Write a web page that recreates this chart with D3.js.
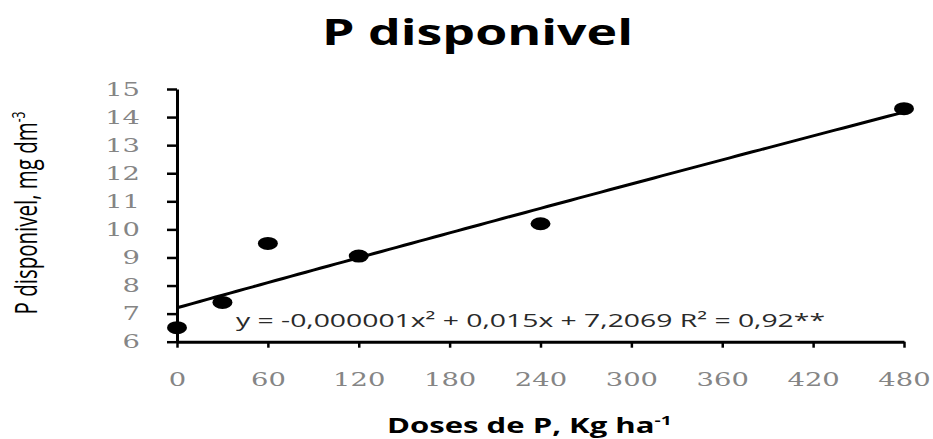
<!DOCTYPE html>
<html>
<head>
<meta charset="utf-8">
<script src="https://cdn.jsdelivr.net/npm/d3@7"></script>
<style>
  html, body { margin: 0; padding: 0; background: #fff; }
  svg { display: block; }
</style>
</head>
<body>
<svg id="chart" width="933" height="439"></svg>
<script>
// ---- data ----
const doses = [0, 30, 60, 120, 240, 480];
const pValues = [6.5, 7.4, 9.5, 9.05, 10.2, 14.3];
const xTicks = [0, 60, 120, 180, 240, 300, 360, 420, 480];
const yTicks = [6, 7, 8, 9, 10, 11, 12, 13, 14, 15];
const trendCoef = [-0.000001, 0.015, 7.2069]; // a x^2 + b x + c
const titleText = "P disponivel";
const xTitleText = "Doses de P, Kg ha";
const xTitleSup = "-1";
const yTitleText = "P disponivel, mg dm";
const yTitleSup = "-3";
const equationText = "y = -0,000001x\u00B2 + 0,015x + 7,2069 R\u00B2 = 0,92**";

// ---- layout ----
const SX = 1.48; // horizontal stretch of the original picture
const svg = d3.select("#chart");
const x = d3.scaleLinear().domain([0, 480]).range([177, 904]);
const y = d3.scaleLinear().domain([6, 15]).range([341.7, 89]);

// title
svg.append("text")
  .attr("x", 322).attr("y", 45)
  .attr("font-family", "'Open Sans', sans-serif")
  .attr("font-weight", 700)
  .attr("font-size", 35)
  .attr("textLength", 311)
  .attr("lengthAdjust", "spacingAndGlyphs")
  .attr("fill", "#000")
  .text(titleText);

// y axis
const yAxis = svg.append("g")
  .attr("transform", `translate(${x(0)},0)`)
  .call(d3.axisLeft(y).tickValues(yTicks).tickSize(10).tickSizeOuter(0).tickFormat(d3.format("d")));
yAxis.select(".domain").attr("stroke", "#000").attr("stroke-width", 3);
yAxis.selectAll(".tick line").attr("stroke", "#000").attr("stroke-width", 2.5);
yAxis.selectAll(".tick text")
  .attr("x", -37 / SX)
  .attr("dy", "0.34em")
  .attr("transform", `scale(${SX},1)`)
  .attr("font-family", "'DejaVu Serif', serif")
  .attr("font-size", 18.5)
  .attr("fill", "#858585");

// x axis
const xAxis = svg.append("g")
  .attr("transform", `translate(0,${y(6)})`)
  .call(d3.axisBottom(x).tickValues(xTicks).tickSize(6).tickSizeOuter(0).tickFormat(d3.format("d")));
xAxis.select(".domain").attr("stroke", "#000").attr("stroke-width", 3);
xAxis.selectAll(".tick line").attr("stroke", "#000").attr("stroke-width", 2.5);
xAxis.selectAll(".tick text")
  .attr("y", 44.3)
  .attr("dy", 0)
  .attr("transform", `scale(${SX},1)`)
  .attr("font-family", "'DejaVu Serif', serif")
  .attr("font-size", 18.5)
  .attr("fill", "#858585");

// trend line
const trend = v => trendCoef[0] * v * v + trendCoef[1] * v + trendCoef[2];
const samples = x.ticks(96);
svg.append("path")
  .datum(samples)
  .attr("fill", "none")
  .attr("stroke", "#000")
  .attr("stroke-width", 3)
  .attr("d", d3.line().x(d => x(d)).y(d => y(trend(d))));

// points
svg.append("g").selectAll("ellipse")
  .data(doses.map((d, i) => [d, pValues[i]]))
  .join("ellipse")
  .attr("cx", d => x(d[0]))
  .attr("cy", d => y(d[1]))
  .attr("rx", 10)
  .attr("ry", 6.5)
  .attr("fill", "#000");

// equation
svg.append("text")
  .attr("x", 236).attr("y", 327)
  .attr("font-family", "'Open Sans', sans-serif")
  .attr("font-size", 19)
  .attr("textLength", 589)
  .attr("lengthAdjust", "spacingAndGlyphs")
  .attr("fill", "#2a2a2a")
  .text(equationText);

// x title
const xt = svg.append("text")
  .attr("transform", `translate(387,433) scale(${SX},1)`)
  .attr("font-family", "'Open Sans', sans-serif")
  .attr("font-weight", 700)
  .attr("font-size", 21)
  .attr("fill", "#000");
xt.append("tspan").text(xTitleText);
xt.append("tspan").attr("dy", -8).attr("font-size", 13).text(xTitleSup);

// y title
const yt = svg.append("text")
  .attr("transform", `translate(36.7,213) scale(${SX},1) rotate(-90)`)
  .attr("text-anchor", "middle")
  .attr("font-family", "'Open Sans', sans-serif")
  .attr("font-size", 20.5)
  .attr("fill", "#000");
yt.append("tspan").text(yTitleText);
yt.append("tspan").attr("dy", -8).attr("font-size", 12).text(yTitleSup);
</script>
</body>
</html>
